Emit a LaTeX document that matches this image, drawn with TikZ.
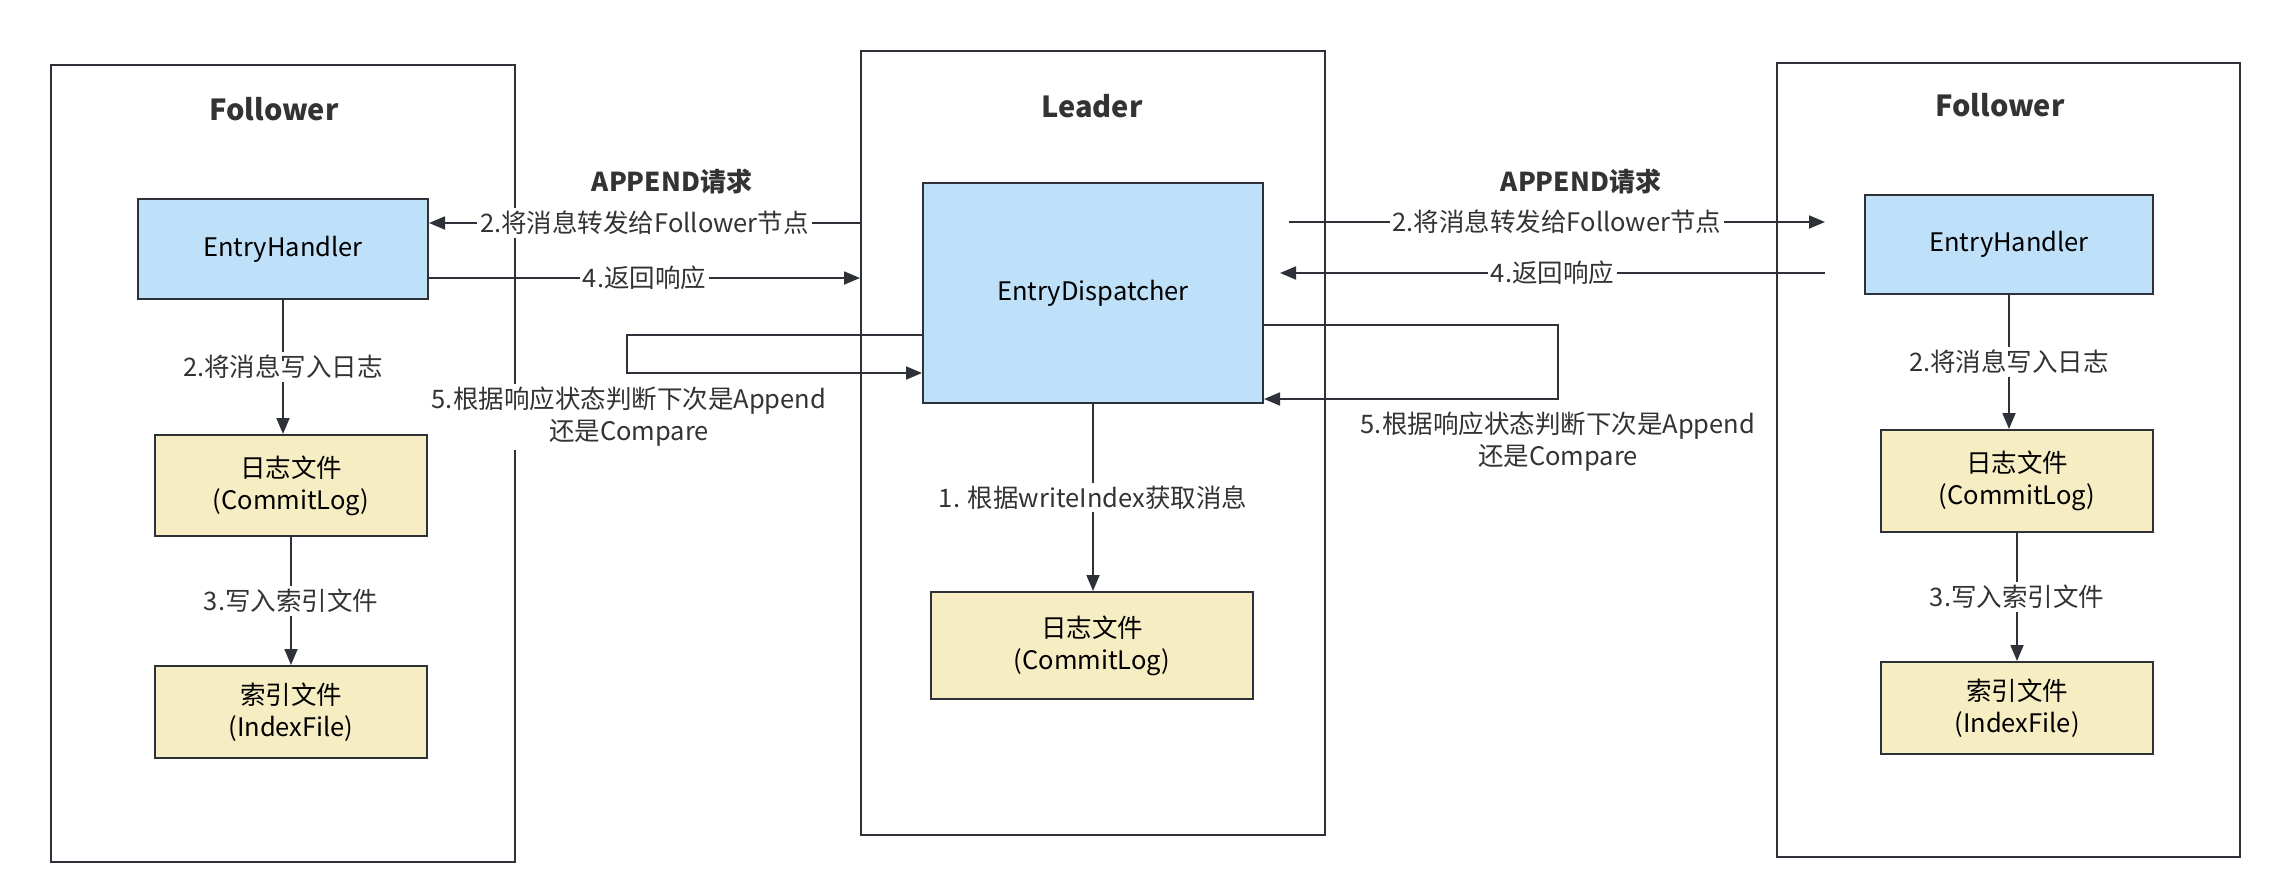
\documentclass[tikz,border=0pt]{standalone}
\usepackage{fontspec}
\setmainfont{Noto Sans CJK SC}
\usetikzlibrary{arrows.meta,fit}
\definecolor{bluefill}{HTML}{BEE0F8}
\definecolor{yelfill}{HTML}{F6EDC3}
\definecolor{ink}{HTML}{2E3238}
\definecolor{txt}{HTML}{333333}
\begin{document}
\begin{tikzpicture}[x=0.5pt,y=-0.5pt,
  container/.style={draw=ink, line width=1pt, inner sep=0pt},
  bluebox/.style={draw=ink, line width=1pt, fill=bluefill, inner sep=0pt, font=\fontsize{12.75}{16}\selectfont, align=center, text=black},
  yelbox/.style={draw=ink, line width=1pt, fill=yelfill, inner sep=0pt, font=\fontsize{12.75}{16}\selectfont, align=center, text=black},
  title/.style={font=\fontsize{14.5}{17}\selectfont\bfseries, text=txt},
  arr/.style={draw=ink, line width=0.9pt, -{Triangle[length=8pt,width=6.5pt]}},
  lbl/.style={fill=white, text=txt, font=\fontsize{12.75}{16}\selectfont, inner sep=1.5pt, align=center},
  req/.style={text=txt, font=\fontsize{13}{16}\selectfont\bfseries}
]
\useasboundingbox[fill=white] (0,0) rectangle (2282,894);

% containers
\node[container, fit={(51,65) (515,862)}] (lF) {};
\node[container, fit={(861,51) (1325,835)}] (lead) {};
\node[container, fit={(1777,63) (2240,857)}] (rF) {};
\node[title] (lFt) at (274,109) {Follower};
\node[title] (leadt) at (1092,106) {Leader};
\node[title] (rFt) at (2000,105) {Follower};

% boxes
\node[bluebox, minimum width=145pt, minimum height=50pt] (lEH) at (283,249) {EntryHandler};
\node[yelbox, minimum width=136pt, minimum height=50.5pt] (lLog) at (291,485.5) {日志文件\\(CommitLog)};
\node[yelbox, minimum width=136pt, minimum height=46pt] (lIdx) at (291,712) {索引文件\\(IndexFile)};
\node[bluebox, minimum width=170pt, minimum height=110pt] (ED) at (1093,293) {EntryDispatcher};
\node[yelbox, minimum width=161pt, minimum height=53.5pt] (mLog) at (1092,645.5) {日志文件\\(CommitLog)};
\node[bluebox, minimum width=144pt, minimum height=49.5pt] (rEH) at (2009,244.5) {EntryHandler};
\node[yelbox, minimum width=136pt, minimum height=51pt] (rLog) at (2017,481) {日志文件\\(CommitLog)};
\node[yelbox, minimum width=136pt, minimum height=46pt] (rIdx) at (2017,708) {索引文件\\(IndexFile)};

% vertical arrows
\draw[arr] (lEH.south) -- (lEH.south |- lLog.north) node[lbl, midway] {2.将消息写入日志};
\draw[arr] (lLog.south) -- (lIdx.north) node[lbl, midway] {3.写入索引文件};
\draw[arr] (ED.south) -- (ED.south |- mLog.north) node[lbl, midway] {1. 根据writeIndex获取消息};
\draw[arr] (rEH.south) -- (rEH.south |- rLog.north) node[lbl, midway] {2.将消息写入日志};
\draw[arr] (rLog.south) -- (rIdx.north) node[lbl, midway] {3.写入索引文件};

% left horizontal
\draw[arr] (lead.west |- 0,223) -- (lEH.east |- 0,223) node[lbl, midway] {2.将消息转发给Follower节点};
\draw[arr] (lEH.east |- 0,278) -- (lead.west |- 0,278) node[lbl, midway] {4.返回响应};
\node[req] (lreq) at (672,182) {APPEND请求};

% right horizontal
\coordinate (r2s) at (1289,222);
\coordinate (r2e) at (1825,222);
\coordinate (r4s) at (1825,273);
\coordinate (r4e) at (1280,273);
\draw[arr] (r2s) -- (r2e) node[lbl, midway] {2.将消息转发给Follower节点};
\draw[arr] (r4s) -- (r4e) node[lbl, midway] {4.返回响应};
\node[req] (rreq) at (1581,182) {APPEND请求};

% loops
\coordinate (ll1) at (627,335);
\coordinate (ll2) at (627,373);
\draw[arr] (ED.west |- ll1) -- (ll1) -- (ll2) -- (ED.west |- ll2);
\node[lbl] (lloop) at (629,417) {5.根据响应状态判断下次是Append\\还是Compare};
\coordinate (rl1) at (1558,325);
\coordinate (rl2) at (1558,399);
\draw[arr] (ED.east |- rl1) -- (rl1) -- (rl2) -- (ED.east |- rl2);
\node[lbl] (rloop) at (1558,442) {5.根据响应状态判断下次是Append\\还是Compare};
\end{tikzpicture}
\end{document}
